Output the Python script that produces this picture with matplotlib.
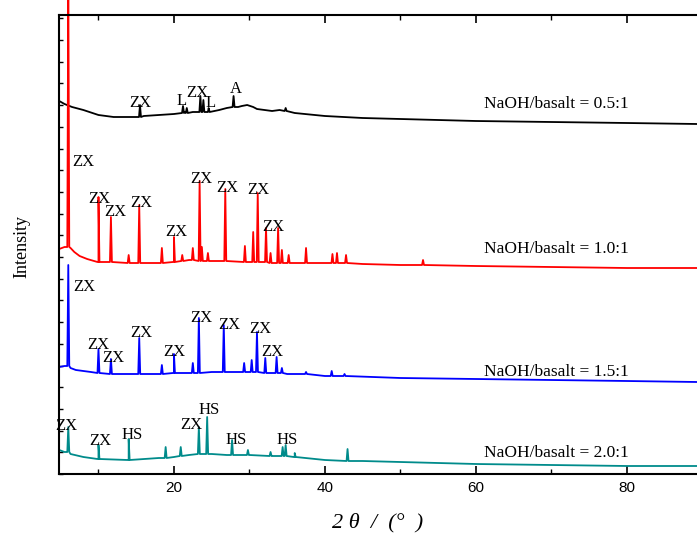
import numpy as np
import matplotlib.pyplot as plt
from matplotlib.ticker import MultipleLocator

# XRD patterns, intensities in arbitrary units (stacked, offset already included)

############################## baseline points ##############################
x_05 = [4.8, 5.5, 6.5, 8, 10, 12, 14, 16, 18, 20, 21.5, 22.5, 24.5, 26, 27, 28.5, 29, 29.7, 30.5, 31, 33, 34, 36, 40, 45, 50, 60, 70, 80, 89.3]
y_05 = [373, 370, 367, 364, 359, 357, 357, 358, 359, 360, 362, 362, 362, 364, 366, 367, 368, 369, 367, 365, 363, 364, 361, 358, 356, 355, 353, 352, 351, 350]

x_10 = [4.8, 5.5, 5.85, 6.3, 6.8, 7.5, 8.5, 10, 15, 20, 22, 25, 30, 35, 40, 45, 50, 60, 70, 80, 89.3]
y_10 = [225, 227, 227, 226, 222, 218, 215, 212, 211, 212, 214, 213, 212, 211, 211, 210, 209, 208, 207, 206, 206]

x_15 = [4.8, 5.5, 5.85, 6.3, 7, 9, 12, 20, 25, 30, 35, 40, 50, 60, 70, 80, 89.3]
y_15 = [107, 108, 108, 106, 104, 102, 100, 101, 102, 102, 100, 98, 96, 95, 94, 93, 92]

x_20 = [4.8, 5.5, 5.85, 6.3, 8, 10, 14, 18, 20, 22, 25, 27, 30, 33, 36, 40, 45, 50, 60, 70, 80, 89.3]
y_20 = [24, 22, 22, 20, 17, 15, 14, 16, 17, 19, 20, 19, 19, 18, 17, 14, 13, 12, 10, 9, 8, 8]

############################## peaks: position, top, base ##############################
pk_05 = [15.5, 21.2, 21.7, 23.5, 23.9, 24.6, 27.9, 34.8]
top_05 = [369, 368, 366, 378, 374, 366, 378, 366]
base_05 = [357, 361, 361, 362, 362, 362, 367, 363]

pk_10 = [6.0, 10.0, 11.65, 14.0, 15.4, 18.4, 20.0, 21.1, 22.5, 23.4, 23.7, 24.5, 26.8, 29.4, 30.5, 31.1, 32.2, 32.8, 33.8, 34.3, 35.2, 37.5, 41.0, 41.6, 42.8, 53.0]
top_10 = [500, 277, 257, 219, 269, 226, 237, 219, 226, 293, 227, 221, 285, 228, 242, 281, 246, 221, 246, 224, 219, 226, 220, 221, 219, 214]
base_10 = [227, 212, 212, 211, 211, 211, 212, 213, 214, 213, 213, 213, 213, 212, 212, 212, 212, 211, 211, 211, 211, 211, 211, 211, 211, 209]

pk_15 = [6.0, 10.0, 11.65, 15.4, 18.4, 20.0, 22.5, 23.3, 26.6, 29.3, 30.3, 31.0, 32.1, 33.6, 34.3, 37.5, 40.9, 42.6]
top_15 = [209, 125, 115, 136, 109, 120, 111, 156, 149, 111, 114, 142, 116, 117, 106, 102, 103, 100]
base_15 = [108, 101, 100, 100, 100, 101, 101, 101, 102, 102, 102, 102, 101, 101, 101, 100, 98, 98]

pk_20 = [6.0, 10.0, 14.0, 18.9, 20.9, 23.3, 24.4, 27.7, 29.8, 32.8, 34.4, 34.8, 36.0, 43.0]
top_20 = [47, 29, 35, 27, 27, 47, 57, 34, 24, 22, 27, 29, 21, 25]
base_20 = [22, 15, 14, 16, 18, 20, 20, 19, 19, 18, 18, 18, 17, 13]

############################## peak labels ##############################
lab_05 = ['ZX', 'L', 'ZX', 'L', 'A']
lx_05 = [15.5, 21.0, 23.1, 24.9, 28.2]
ly_05 = [371, 373, 381, 371, 385]

lab_10 = ['ZX'] * 9
lx_10 = [7.95, 10.07, 12.19, 15.63, 20.26, 23.58, 27.02, 31.13, 33.11]
ly_10 = [312, 275, 262, 271, 242, 295, 286, 284, 247]

lab_15 = ['ZX'] * 9
lx_15 = [8.08, 9.93, 11.92, 15.63, 20.0, 23.58, 27.28, 31.39, 32.98]
ly_15 = [187, 129, 116, 141, 122, 156, 149, 145, 122]

lab_20 = ['ZX', 'ZX', 'HS', 'ZX', 'HS', 'HS', 'HS']
lx_20 = [5.70, 10.2, 14.44, 22.25, 24.64, 28.2, 34.97]
ly_20 = [48, 33, 39, 49, 64, 34, 34]

ratios = ['0.5:1', '1.0:1', '1.5:1', '2.0:1']
ratio_y = [370, 225, 102, 21]


def build(xb, yb, pk, top, base, w=0.13):
    pts = list(zip(xb, yb))
    for p, t, b in zip(pk, top, base):
        pts += [(p - w, b), (p, t), (p + w, b)]
    pts.sort(key=lambda q: q[0])
    return [q[0] for q in pts], [q[1] for q in pts]


fig = plt.figure(figsize=(6.97, 5.35), dpi=100)
ax = fig.add_axes([59/697, 61/535, 638/697, 459/535])

traces = [(x_05, y_05, pk_05, top_05, base_05, 'black'),
          (x_10, y_10, pk_10, top_10, base_10, '#ff0000'),
          (x_15, y_15, pk_15, top_15, base_15, '#0000ff'),
          (x_20, y_20, pk_20, top_20, base_20, '#008b8b')]
for xb, yb, pk, top, base, c in traces:
    xs, ys = build(xb, yb, pk, top, base)
    ax.plot(xs, ys, color=c, linewidth=1.3, clip_on=False, zorder=2)

for labs, lx, ly in [(lab_05, lx_05, ly_05), (lab_10, lx_10, ly_10),
                     (lab_15, lx_15, ly_15), (lab_20, lx_20, ly_20)]:
    for t, xx, yy in zip(labs, lx, ly):
        ax.text(xx, yy, t, ha='center', va='center', fontsize=12,
                family='Liberation Serif', zorder=3)

for r, yy in zip(ratios, ratio_y):
    ax.text(61.06, yy, 'NaOH/basalt = ' + r, ha='left', va='center',
            fontsize=12.5, family='Liberation Serif')

ax.set_xlim(4.77, 89.3)
ax.set_ylim(0, 459)
ax.xaxis.set_major_locator(MultipleLocator(20))
ax.xaxis.set_minor_locator(MultipleLocator(10))
ax.yaxis.set_major_locator(MultipleLocator(21.7))
ax.set_yticklabels([])
ax.tick_params(axis='x', which='major', direction='in', length=6, width=1.2, top=True,
               labelsize=11, pad=5)
ax.tick_params(axis='x', which='minor', direction='in', length=3.5, width=1.0, top=True)
ax.tick_params(axis='y', which='major', direction='in', length=3, width=1.0, right=False)
for lbl in ax.get_xticklabels():
    lbl.set_family('Liberation Sans')
for s in ['top', 'bottom', 'left']:
    ax.spines[s].set_linewidth(1.5)
ax.spines['right'].set_visible(False)

fig.text(22/697, 1 - 247/535, 'Intensity', rotation=90, ha='center', va='center',
         fontsize=13, family='Liberation Serif')
fig.text(378/697, 1 - 523/535, '2 θ  /  (°  )', ha='center', va='center',
         fontsize=16, family='Liberation Serif', style='italic')

plt.savefig('out.png', dpi=100)
